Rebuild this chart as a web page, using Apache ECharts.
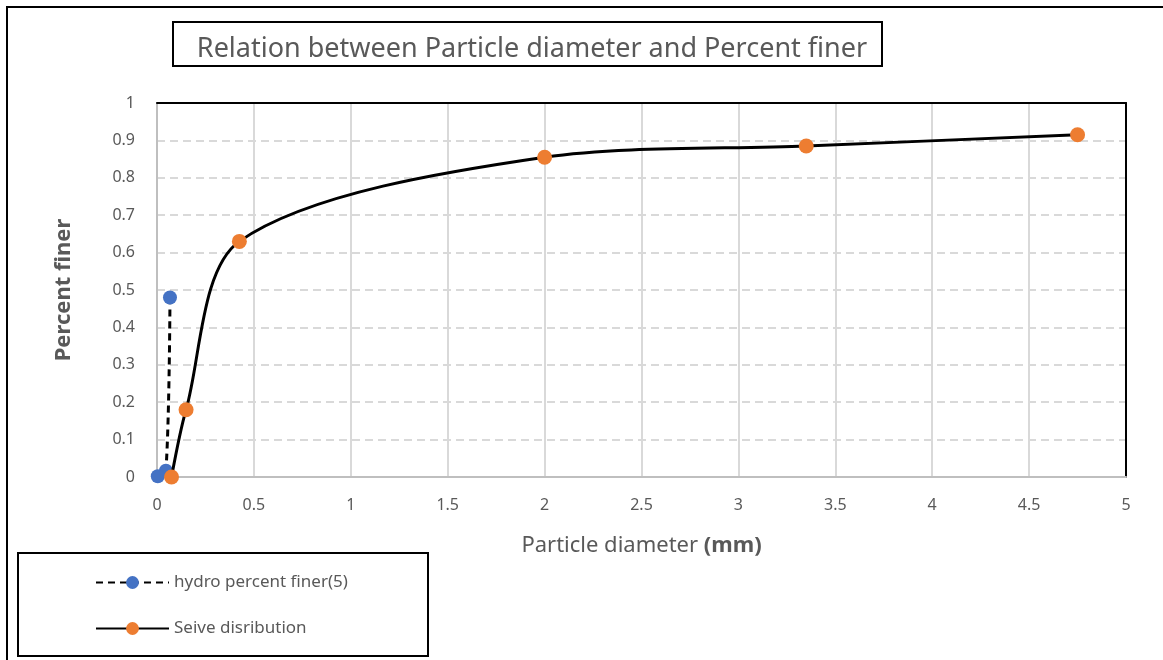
<!DOCTYPE html>
<html>
<head>
<meta charset="utf-8">
<script src="https://cdn.jsdelivr.net/npm/echarts@6/dist/echarts.min.js"></script>
<style>
  html, body { margin: 0; padding: 0; background: #fff; }
  #chart { width: 1163px; height: 660px; }
</style>
</head>
<body>
<div id="chart"></div>
<script>
// particle size distribution
var hydroData = [[0.067, 0.48], [0.046, 0.017], [0.004, 0.002]];
var sieveData = [[0.075, 0], [0.15, 0.18], [0.425, 0.63], [2, 0.855], [3.35, 0.885], [4.75, 0.915]];
var seriesNames = ['hydro percent finer(5)', 'Seive disribution'];

var font = 'Noto Sans';
var grey = '#595959';

var myChart = echarts.init(document.getElementById('chart'));

var option = {
  animation: false,
  textStyle: { fontFamily: font },
  title: {
    text: 'Relation between Particle diameter and Percent finer',
    left: 527,
    top: 44,
    textAlign: 'center',
    textVerticalAlign: 'middle',
    textStyle: { color: grey, fontWeight: 'normal', fontSize: 27, fontFamily: font }
  },
  graphic: [
    // outer chart frame
    { type: 'rect', shape: { x: 7, y: 7, width: 1170, height: 670 }, style: { fill: null, stroke: '#000', lineWidth: 2 } },
    // title box
    { type: 'rect', shape: { x: 173, y: 22, width: 709, height: 44 }, style: { fill: '#fff', stroke: '#000', lineWidth: 2 }, z: -1 },
    // legend box
    { type: 'rect', shape: { x: 18, y: 553, width: 410, height: 103 }, style: { fill: '#fff', stroke: '#000', lineWidth: 2 }, z: -1 }
  ],
  legend: {
    orient: 'vertical',
    left: 90,
    top: 569,
    itemWidth: 73,
    itemHeight: 16,
    itemGap: 29,
    textStyle: { color: grey, fontSize: 17, fontFamily: font },
    data: seriesNames
  },
  grid: {
    left: 157,
    right: 37,
    top: 103,
    bottom: 183
  },
  xAxis: [{
    type: 'value',
    min: 0,
    max: 5,
    interval: 0.5,
    name: '{n|Particle diameter }{b|(mm)}',
    nameLocation: 'middle',
    nameGap: 58,
    nameTextStyle: {
      rich: {
        n: { color: grey, fontSize: 22, fontFamily: font },
        b: { color: grey, fontSize: 22, fontFamily: font, fontWeight: 'bold' }
      }
    },
    axisLine: { lineStyle: { color: '#bfbfbf', width: 2 } },
    axisTick: { show: false },
    axisLabel: { color: grey, fontSize: 16, margin: 20 },
    splitLine: { lineStyle: { color: '#d9d9d9', width: 2 } }
  }, {
    // top frame edge
    type: 'value',
    position: 'top',
    min: 0,
    max: 5,
    axisLine: { show: true, onZero: false, lineStyle: { color: '#000', width: 2 } },
    axisTick: { show: false },
    axisLabel: { show: false },
    splitLine: { show: false }
  }],
  yAxis: [{
    type: 'value',
    min: 0,
    max: 1,
    interval: 0.1,
    name: 'Percent finer',
    nameLocation: 'middle',
    nameGap: 82,
    nameTextStyle: { color: grey, fontSize: 22, fontWeight: 'bold', fontFamily: font },
    axisLine: { show: true, lineStyle: { color: '#bfbfbf', width: 2 } },
    axisTick: { show: false },
    axisLabel: { color: grey, fontSize: 16, margin: 22 },
    splitLine: { lineStyle: { color: '#d9d9d9', width: 2, type: [8, 5] } }
  }, {
    // right frame edge
    type: 'value',
    position: 'right',
    min: 0,
    max: 1,
    axisLine: { show: true, onZero: false, lineStyle: { color: '#000', width: 2 } },
    axisTick: { show: false },
    axisLabel: { show: false },
    splitLine: { show: false }
  }],
  series: [{
    name: seriesNames[0],
    type: 'line',
    smooth: 0.3,
    symbol: 'circle',
    symbolSize: 14,
    itemStyle: { color: '#4472c4' },
    lineStyle: { color: '#000', width: 3, type: [7, 5] },
    data: hydroData,
    z: 3
  }, {
    name: seriesNames[1],
    type: 'line',
    smooth: 0.3,
    symbol: 'circle',
    symbolSize: 15,
    itemStyle: { color: '#ed7d31' },
    lineStyle: { color: '#000', width: 3 },
    data: sieveData,
    z: 4
  }]
};

myChart.setOption(option, true);
window.addEventListener('resize', function () {
  myChart.resize();
});
</script>
</body>
</html>
